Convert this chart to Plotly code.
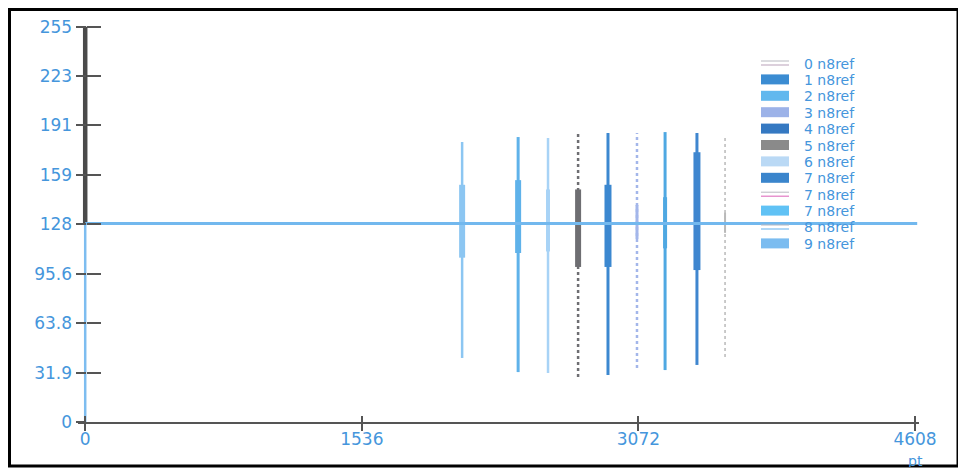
import plotly.graph_objects as go

# ---------------- data ----------------
x_tick_vals = [0, 1536, 3072, 4608]
x_tick_labels = ["0", "1536", "3072", "4608"]
x_unit = "pt"
y_tick_vals = [0, 31.875, 63.75, 95.625, 127.5, 159.375, 191.25, 223.125, 255]
y_tick_labels = ["0", "31.9", "63.8", "95.6", "128", "159", "191", "223", "255"]

baseline_x = [0, 4620]
baseline_y = [128, 128]
start_x = [0, 0]
start_upper_y = [128, 255]
start_lower_y = [0, 128]

spike_names = ["2 n8ref", "2 n8ref", "6 n8ref", "5 n8ref", "4 n8ref",
               "3 n8ref", "7 n8ref", "1 n8ref", "0 n8ref"]
spike_x = [2093, 2404, 2570, 2737, 2903, 3064, 3220, 3397, 3553]
spike_top = [180.6, 183.8, 183.2, 186.4, 186.4, 186.4, 187.0, 186.4, 185.1]
spike_bottom = [41.3, 32.2, 31.6, 29.0, 30.3, 34.8, 33.5, 36.8, 41.9]
burst_top = [153, 156, 150, 150, 153, 140, 145, 174, 135]
burst_bottom = [106, 109, 110, 100, 100, 118, 112, 98, 122]

legend_labels = ["0 n8ref", "1 n8ref", "2 n8ref", "3 n8ref", "4 n8ref", "5 n8ref",
                 "6 n8ref", "7 n8ref", "7 n8ref", "7 n8ref", "8 n8ref", "9 n8ref"]

# ---------------- styles ----------------
spike_colors = ["#8cc6f2", "#5fb2ea", "#a8d3f6", "#6e6e72", "#3c88d0",
                "#a3b6ea", "#4fa8e2", "#3f86cf", "#b9b9b9"]
spike_dash = ["solid", "solid", "solid", "dot", "solid", "dot", "solid", "solid", "dot"]
spike_w = [2.5, 3, 2.5, 2.5, 3, 2.5, 3, 3, 1.5]
burst_w = [6, 6, 4, 6, 7, 3, 4, 7, 2]

legend_kind = ["line", "box", "box", "box", "box", "box", "box", "box", "line", "box", "line", "box"]
legend_colors = ["#c4b0c4", "#3b8cd2", "#62b8ee", "#9cb2e8", "#3579c2", "#8a8a8a",
                 "#bad9f5", "#3a85cc", "#e27ac4", "#60c2f5", "#7cbdf0", "#7bbcf0"]

TXT = "#4596dc"
AX = "#555555"
FONT = "DejaVu Sans"

# page offset (body margin) of the rendered figure
OFF = 8
FW, FH = 958, 464
L, R, T, B = 70, 47, 14, 50
PW, PH = FW - L - R, FH - T - B


def pxx(px):
    """screen x pixel -> paper x"""
    return (px - OFF - L) / PW


def pxy(py):
    """screen y pixel -> paper y"""
    return (FH - B - (py - OFF)) / PH


fig = go.Figure()

# x = 0 start strokes
fig.add_trace(go.Scatter(x=start_x, y=start_lower_y, mode="lines",
                         line=dict(color="#7dbdf0", width=2.5), showlegend=False,
                         hoverinfo="skip"))
fig.add_trace(go.Scatter(x=start_x, y=start_upper_y, mode="lines",
                         line=dict(color="#4a4a4a", width=4.5), showlegend=False,
                         hoverinfo="skip"))

# spikes
for i in range(len(spike_x)):
    fig.add_trace(go.Scatter(x=[spike_x[i], spike_x[i]], y=[spike_bottom[i], spike_top[i]],
                             mode="lines", name=spike_names[i], showlegend=False,
                             line=dict(color=spike_colors[i], width=spike_w[i], dash=spike_dash[i])))
    fig.add_trace(go.Scatter(x=[spike_x[i], spike_x[i]], y=[burst_bottom[i], burst_top[i]],
                             mode="lines", name=spike_names[i], showlegend=False,
                             line=dict(color=spike_colors[i], width=burst_w[i])))

# baseline
fig.add_trace(go.Scatter(x=baseline_x, y=baseline_y, mode="lines", name="8 n8ref",
                         line=dict(color="#72b8ee", width=3), showlegend=False))

# dummy trace for overlay axes (crossing ticks)
fig.add_trace(go.Scatter(x=[None], y=[None], xaxis="x2", yaxis="y2", showlegend=False))

shapes = []
annotations = []
row_y0, row_step = 63, 16.4
for i, lab in enumerate(legend_labels):
    cy = row_y0 + i * row_step
    if legend_kind[i] == "box":
        shapes.append(dict(type="rect", xref="paper", yref="paper",
                           x0=pxx(761), x1=pxx(789), y0=pxy(cy + 5), y1=pxy(cy - 5),
                           fillcolor=legend_colors[i], line=dict(width=0)))
    else:
        shapes.append(dict(type="line", xref="paper", yref="paper",
                           x0=pxx(761), x1=pxx(789), y0=pxy(cy - 2), y1=pxy(cy - 2),
                           line=dict(color="#b8b8c0", width=1)))
        shapes.append(dict(type="line", xref="paper", yref="paper",
                           x0=pxx(761), x1=pxx(789), y0=pxy(cy + 2), y1=pxy(cy + 2),
                           line=dict(color=legend_colors[i], width=1.2)))
    annotations.append(dict(text=lab, xref="paper", yref="paper", x=pxx(803), y=pxy(cy),
                            xanchor="left", yanchor="middle", showarrow=False,
                            borderpad=0, height=15,
                            font=dict(family=FONT, size=14, color=TXT)))

# unit label under the last x tick
annotations.append(dict(text=x_unit, xref="x", yref="paper", x=x_tick_vals[-1], y=pxy(460),
                        xanchor="center", yanchor="middle", showarrow=False, borderpad=0,
                        height=13, font=dict(family=FONT, size=14, color=TXT)))

# outer black frame
shapes.append(dict(type="rect", xref="paper", yref="paper",
                   x0=pxx(9.5), x1=pxx(958), y0=pxy(466), y1=pxy(9.5),
                   line=dict(color="#000000", width=3), fillcolor="rgba(0,0,0,0)"))

x_range = [-40, 4630]
y_range = [0, 258]
ypos = pxx(85.5)

fig.update_layout(
    width=FW, height=FH,
    margin=dict(l=L, r=R, t=T, b=B, autoexpand=False),
    paper_bgcolor="white", plot_bgcolor="white",
    showlegend=False,
    shapes=shapes, annotations=annotations,
    xaxis=dict(range=x_range, tickvals=x_tick_vals, ticktext=x_tick_labels,
               showgrid=False, zeroline=False, showline=True, linecolor=AX, linewidth=2,
               ticks="outside", ticklen=7, tickwidth=2, tickcolor=AX, automargin=False,
               ticklabelstandoff=-6,
               tickfont=dict(family=FONT, size=17, color=TXT), anchor="y"),
    yaxis=dict(range=y_range, tickvals=y_tick_vals, ticktext=y_tick_labels,
               showgrid=False, zeroline=False, showline=False, automargin=False,
               ticks="outside", ticklen=10, tickwidth=1.5, tickcolor=AX,
               tickfont=dict(family=FONT, size=17, color=TXT),
               anchor="free", position=ypos),
    xaxis2=dict(range=x_range, tickvals=x_tick_vals, showticklabels=False,
                overlaying="x", anchor="y", showgrid=False, zeroline=False, showline=False,
                ticks="inside", ticklen=6, tickwidth=2, tickcolor=AX, automargin=False),
    yaxis2=dict(range=y_range, tickvals=y_tick_vals, showticklabels=False,
                overlaying="y", anchor="free", position=ypos, side="left",
                showgrid=False, zeroline=False, showline=False, automargin=False,
                ticks="inside", ticklen=14, tickwidth=1.5, tickcolor=AX),
)

fig.write_html("out.html")
